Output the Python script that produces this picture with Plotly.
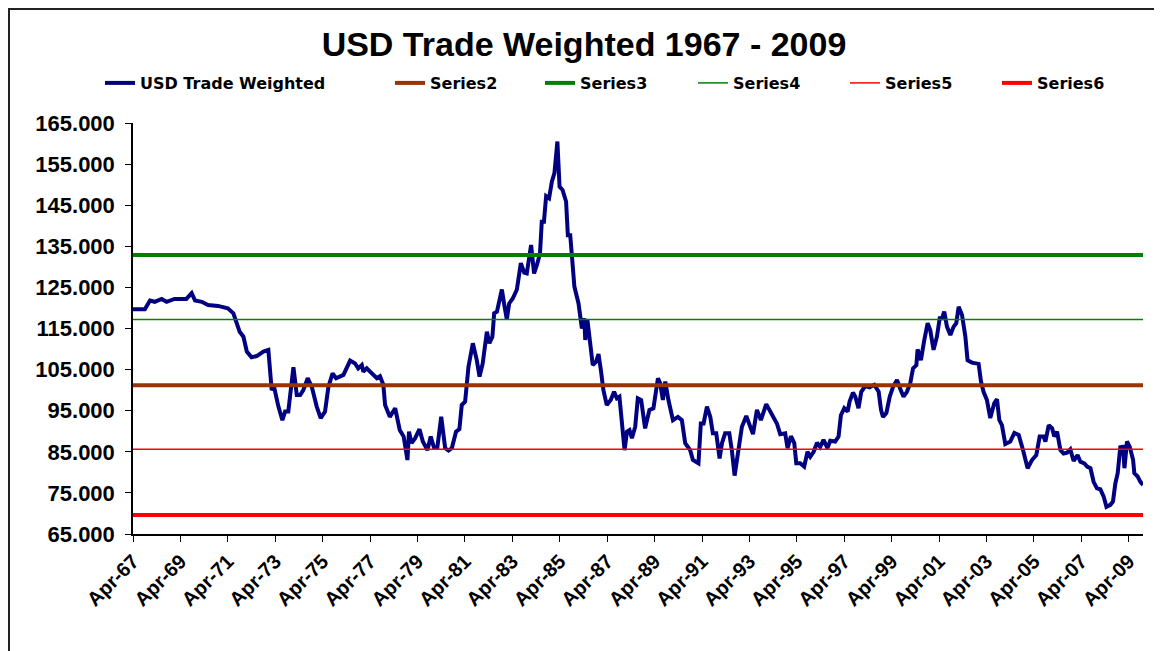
import numpy as np
import pandas as pd
import plotly.graph_objects as go

# Months elapsed since April 1967 and index values
month_offset = [
    0, 6, 8.6, 11, 14.5, 17, 21, 27, 29.7, 31.4, 34.8, 38, 43, 45.7, 48, 50.8, 52.5, 54, 55.9, 57.6,
    60, 62.6, 66, 68.5, 70.2, 71.4, 73.6, 75.6, 77, 78.6, 81.2, 82.9, 84.6, 86.2, 88.4, 90.5, 93, 95,
    97.2, 98.9, 101, 102.8, 106.5, 109.9, 112.4, 114, 115.8, 116.6, 118.3, 120.9, 123.4, 125, 126.7,
    127.6, 130, 132.7, 135, 137, 138, 138.9, 139.7, 141, 142.8, 145, 146.7, 149, 150.7, 152.4, 154,
    156, 158, 159.7, 161.4, 163.5, 165.2, 166.4, 168.1, 169.8, 172, 174, 175.4, 177, 179.1, 180.4,
    181.9, 182.8, 184.2, 186.7, 187.8, 189.2, 190.4, 192.2, 194.3, 196.3, 198, 199.3, 201.5, 203,
    204.7, 206, 206.9, 208, 209.1, 210.6, 212, 213.3, 214.8, 215.9, 217.4, 219.2, 220.1, 221.3, 222.6,
    223.4, 225.5, 226.3, 227.2, 228.4, 228.9, 230, 231.4, 232.7, 234.4, 235.6, 236.8, 238.1, 239.8,
    241.8, 243.5, 244.9, 246.2, 247.4, 248.8, 250, 251.3, 252.5, 254.2, 255.5, 257.2, 259.2, 261.4,
    263.4, 264.3, 265.7, 266.8, 268.2, 269.4, 271, 273.3, 275.8, 277.8, 279.5, 282, 283.4, 286.2,
    287.4, 288.8, 290.5, 292.2, 293.5, 295.2, 296.9, 298.1, 299.7, 301.8, 303.1, 304.5, 306.5, 308.2,
    310.4, 312, 313.8, 315.8, 317.8, 320.5, 322.2, 324.2, 325.9, 327.6, 330.1, 331.3, 333, 334.7,
    335.7, 337.7, 339.7, 341.4, 342.8, 344.5, 346.2, 347.8, 349.5, 351.5, 352.9, 355.4, 357.1, 358.3,
    360, 361.7, 362.7, 364.4, 365.6, 367.2, 368.6, 370.6, 372.8, 375.2, 377.4, 378.6, 379.6, 381.3,
    383, 384.7, 386.7, 388.4, 390, 391.7, 393.4, 394.8, 396.5, 397.1, 398.8, 400.5, 402.2, 403.5,
    405.2, 406.9, 408.3, 409.5, 410.6, 412, 413.7, 415.3, 416.7, 417.9, 419.6, 421.3, 422.4, 424.6,
    428, 429.2, 430.5, 432.2, 433.9, 435.9, 437.3, 438.5, 439.8, 441.5, 444, 446.1, 448.3, 450.5,
    452.8, 455, 457.2, 458.9, 460.9, 461.8, 463.5, 465.2, 466.3, 467.7, 469.4, 471, 472.8, 474.4,
    476.1, 478.1, 479.5, 481.5, 482.9, 484.6, 486.2, 487.9, 489.6, 491.3, 492.7, 494.7, 496, 497.2,
    498.4, 499.7, 501.1, 501.8, 503.1, 504.5, 506.2, 506.8, 508.5, 509.9, 511.2,
]
usd_values = [
    119.7, 119.7, 121.8, 121.5, 122.2, 121.5, 122.2, 122.2, 123.6, 121.8, 121.5, 120.7, 120.5, 120.3,
    119.9, 118.7, 116.3, 114.2, 113.0, 109.4, 108.0, 108.3, 109.4, 109.8, 100.0, 100.8, 96.0, 92.7,
    94.8, 94.8, 105.6, 98.8, 98.8, 100.0, 102.9, 100.8, 96.0, 93.2, 94.8, 100.8, 104.1, 102.9, 103.7,
    107.2, 106.5, 105.3, 106.1, 104.5, 105.3, 104.2, 102.9, 103.4, 101.3, 96.4, 93.5, 95.6, 90.3,
    88.7, 85.4, 83.0, 89.9, 87.1, 88.3, 90.5, 87.5, 85.4, 88.7, 85.9, 85.9, 93.5, 85.9, 85.3, 85.9,
    89.9, 90.5, 96.4, 97.2, 105.7, 111.4, 107.3, 103.3, 106.5, 114.2, 111.4, 113.0, 118.7, 119.1,
    124.5, 121.1, 117.2, 121.1, 122.3, 124.5, 130.9, 128.6, 128.4, 135.3, 128.4, 130.9, 133.3, 141.0,
    141.0, 147.2, 146.7, 150.7, 152.8, 160.5, 149.5, 148.7, 145.9, 137.7, 137.7, 130.0, 125.2, 121.1,
    117.5, 115.0, 117.5, 112.2, 117.1, 110.6, 106.1, 106.9, 108.8, 104.9, 100.0, 96.4, 97.6, 99.6,
    98.0, 98.4, 91.9, 85.4, 89.9, 90.3, 88.3, 91.1, 98.0, 97.6, 90.7, 95.2, 95.6, 98.4, 102.9, 101.7,
    97.6, 102.1, 97.6, 92.7, 93.5, 92.7, 87.1, 85.4, 83.0, 82.2, 91.9, 91.9, 96.0, 93.5, 89.5, 89.5,
    83.4, 87.1, 89.5, 89.5, 85.4, 79.2, 86.2, 91.1, 93.7, 91.9, 89.3, 95.2, 92.7, 96.6, 95.2, 93.2,
    91.9, 89.3, 89.5, 85.9, 88.8, 87.1, 82.2, 82.2, 81.4, 85.0, 83.8, 85.0, 87.2, 86.2, 87.9, 85.9,
    87.7, 87.5, 88.7, 93.9, 95.6, 94.8, 97.2, 99.4, 98.4, 95.6, 99.6, 101.0, 100.7, 101.3, 99.6, 95.2,
    93.5, 94.4, 98.4, 100.8, 102.5, 100.2, 98.4, 99.6, 101.7, 105.3, 106.1, 109.9, 107.3, 112.2,
    116.3, 114.6, 109.8, 113.0, 117.5, 117.5, 119.1, 115.4, 113.4, 115.4, 116.3, 120.3, 118.3, 113.0,
    107.3, 106.7, 106.4, 102.1, 99.6, 97.6, 93.2, 96.8, 97.8, 92.7, 91.5, 86.9, 87.5, 89.6, 89.1,
    85.4, 81.0, 83.0, 84.2, 88.7, 88.7, 87.5, 91.5, 90.7, 88.7, 89.9, 85.4, 84.6, 84.8, 85.6, 82.8,
    84.2, 82.6, 82.2, 81.4, 81.0, 77.7, 76.1, 75.9, 74.1, 71.6, 72.1, 72.9, 77.3, 79.8, 86.1, 86.2,
    81.0, 87.5, 86.2, 83.0, 79.8, 79.0, 77.7, 76.9,
]

# Constant reference series
series_names = ["Series2", "Series3", "Series4", "Series5", "Series6"]
series_levels = [101.2, 132.9, 117.2, 85.6, 69.6]
series_colors = ["#993300", "#008000", "#008000", "#FF0000", "#FF0000"]
series_widths = [4, 4, 1.5, 1.5, 4]
legend_widths = [105, 108, 107, 107, 80]

start = pd.Timestamp("1967-04-01")
dates = start + pd.to_timedelta(np.array(month_offset) * 30.4375, unit="D")

FONT = "Liberation Sans, Arial, sans-serif"

fig = go.Figure()
fig.add_trace(go.Scatter(
    x=dates, y=usd_values, mode="lines", name="USD Trade Weighted",
    line=dict(color="#000080", width=4), legendwidth=245,
))
for name, lvl, col, w, lw in zip(series_names, series_levels, series_colors, series_widths, legend_widths):
    fig.add_trace(go.Scatter(
        x=[dates[0], dates[-1]], y=[lvl, lvl], mode="lines", name=name,
        line=dict(color=col, width=w), legendwidth=lw,
    ))

W, H = 1162, 651
L, T, PW, PH = 125, 115, 1010, 411
R, B = W - L - PW, H - T - PH

fig.update_layout(
    width=W, height=H,
    margin=dict(l=L, r=R, t=T, b=B),
    paper_bgcolor="white", plot_bgcolor="white",
    font=dict(family=FONT, color="black"),
    title=dict(
        text="<b>USD Trade Weighted 1967 - 2009</b>",
        font=dict(size=34, family=FONT, color="black"),
        x=576 / W, xanchor="center", y=1 - 36 / H, yanchor="middle",
        xref="container", yref="container",
    ),
    showlegend=True,
    legend=dict(
        orientation="h", x=(92 - L) / PW, xanchor="left",
        y=(T + PH - 75) / PH, yanchor="middle",
        font=dict(size=16, family="DejaVu Sans, sans-serif", color="black", weight="bold"),
        bgcolor="rgba(0,0,0,0)", traceorder="normal",
    ),
    xaxis=dict(
        type="date",
        range=[dates[0], dates[-1]],
        tick0="1967-04-01", dtick="M24", tickformat="%b-%y",
        tickangle=-45,
        tickfont=dict(size=20, family=FONT, color="black", weight="bold"),
        showgrid=False, zeroline=False,
        showline=True, linecolor="black", linewidth=1.5,
        ticks="outside", ticklen=6, tickcolor="black", tickwidth=1,
    ),
    yaxis=dict(
        range=[65, 165], tick0=65, dtick=10, tickformat=".3f",
        tickfont=dict(size=22, family=FONT, color="black", weight="bold"),
        showgrid=False, zeroline=False,
        showline=True, linecolor="black", linewidth=1.5,
        ticks="outside", ticklen=6, tickcolor="black", tickwidth=1,
        ticklabelstandoff=6,
    ),
    shapes=[dict(
        type="rect", xref="paper", yref="paper",
        x0=(1 - L) / PW, x1=(1149 - L) / PW,
        y0=-0.4, y1=(T + PH - 1) / PH,
        line=dict(color="#222222", width=2), fillcolor="rgba(0,0,0,0)",
        layer="above",
    )],
)

fig.write_html("out.html")
